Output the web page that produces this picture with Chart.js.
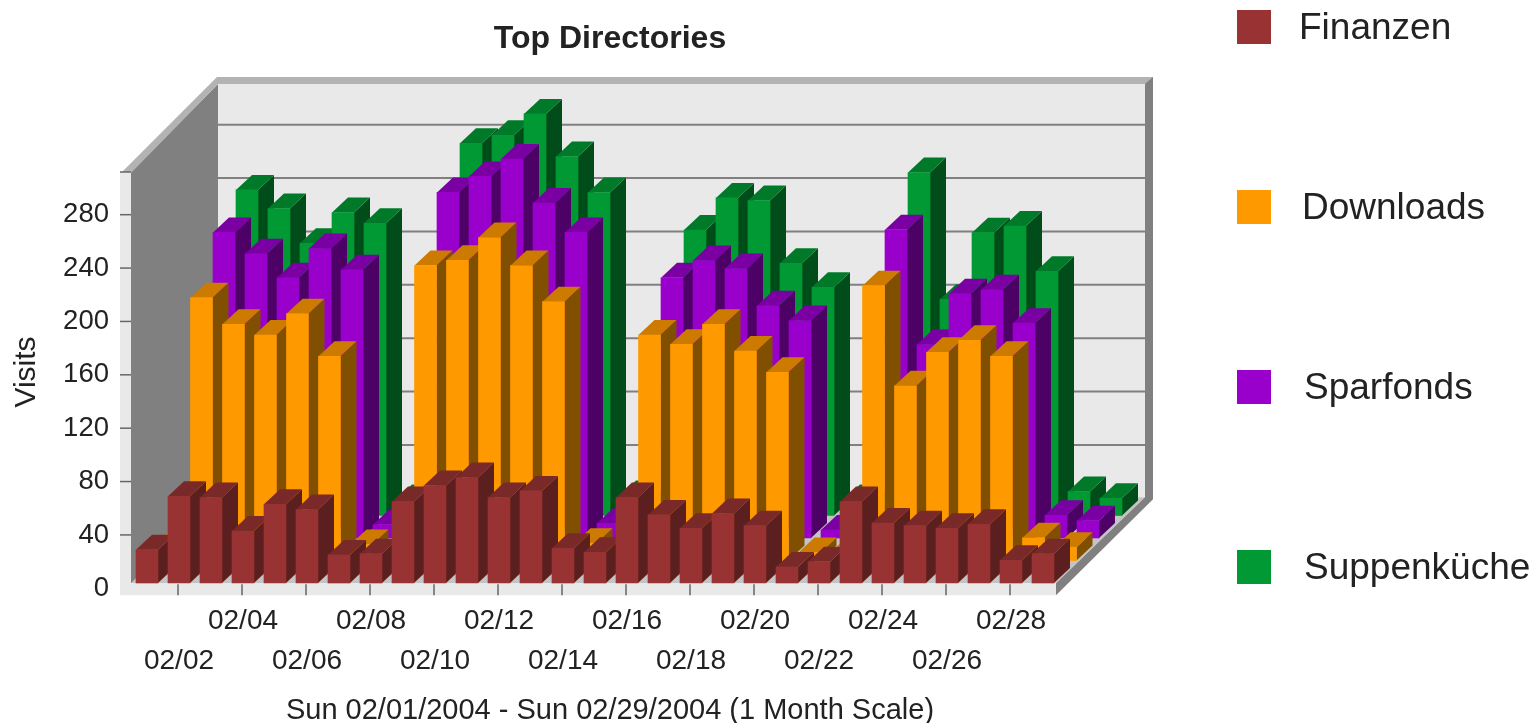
<!DOCTYPE html>
<html>
<head>
<meta charset="utf-8">
<title>Top Directories</title>
<script src="https://cdn.jsdelivr.net/npm/chart.js@4/dist/chart.umd.js"></script>
<style>
    html, body { margin: 0; padding: 0; background: #fff; }
    #wrap { width: 1539px; height: 723px; }
</style>
</head>
<body>
<div id="wrap"><canvas id="topDirectoriesChart" width="1539" height="723"></canvas></div>
<script>
const days = [
    "02/01", "02/02", "02/03", "02/04", "02/05", "02/06", "02/07", "02/08", "02/09", "02/10",
    "02/11", "02/12", "02/13", "02/14", "02/15", "02/16", "02/17", "02/18", "02/19", "02/20",
    "02/21", "02/22", "02/23", "02/24", "02/25", "02/26", "02/27", "02/28", "02/29"
];

const finanzen = [25, 65, 64, 39, 59, 55, 21, 22, 61, 73, 79, 64, 69, 26, 23, 64, 51, 41, 52, 43, 12, 16, 61, 45, 43, 41, 44, 17, 22];
const downloads = [15, 197, 177, 169, 185, 153, 12, 10, 221, 225, 242, 221, 194, 13, 10, 169, 162, 177, 157, 141, 6, 6, 206, 131, 156, 165, 153, 17, 10];
const sparfonds = [15, 229, 213, 195, 217, 201, 10, 12, 259, 271, 284, 251, 229, 11, 10, 195, 208, 202, 174, 163, 6, 8, 231, 145, 183, 186, 161, 17, 13];
const suppenkueche = [15, 244, 230, 204, 227, 219, 12, 15, 279, 285, 301, 269, 242, 15, 12, 214, 238, 236, 189, 171, 12, 12, 257, 162, 212, 217, 183, 18, 13];

const seriesNames = ["Finanzen", "Downloads", "Sparfonds", "Suppenküche"];
const seriesValues = [finanzen, downloads, sparfonds, suppenkueche];

const yTickStep = 40;
const yMax = 312;

// face colours per series: front, top, side
const frontColors = ["#993333", "#ff9900", "#9900cc", "#009933"];
const topColors = ["#7a2929", "#cc7a00", "#7a00a3", "#007a29"];
const sideColors = ["#5c1f1f", "#805000", "#4d0066", "#004d1a"];

// how far each series row sits behind the front of the floor
const rowShiftX = [0, 22.5, 45, 68];
const rowShiftY = [-5.3, -27.8, -50.3, -72.8];

// legend text starts
const legendTextX = [1299, 1302, 1304, 1304];

const BAR_DEPTH_X = 16;
const BAR_DEPTH_Y = 15;
const WALL_DEPTH_X = 87;
const WALL_DEPTH_Y = 90;
const FONT = "'Liberation Sans', Arial, sans-serif";

function fillPoly(ctx, color, points) {
    ctx.fillStyle = color;
    ctx.beginPath();
    ctx.moveTo(points[0][0], points[0][1]);
    points.slice(1).forEach(p => ctx.lineTo(p[0], p[1]));
    ctx.closePath();
    ctx.fill();
}

// Room behind the bars: walls, floor, rims and grid lines
const roomPlugin = {
    id: "room",
    beforeDatasetsDraw(chart) {
        const ctx = chart.ctx;
        const area = chart.chartArea;
        const x = chart.scales.x;
        const y = chart.scales.y;
        const left = area.left;
        const right = area.right - 3;
        const top = area.top;
        const floor = area.bottom - 5;
        const backLeft = left + WALL_DEPTH_X;
        const backRight = right + WALL_DEPTH_X + 2;
        const backTop = top - WALL_DEPTH_Y + 2;
        const backFloor = floor - 86;

        ctx.save();
        fillPoly(ctx, "#e9e9e9", [[backLeft, backTop], [backRight, backTop], [backRight, backFloor], [backLeft, backFloor]]);
        fillPoly(ctx, "#c4c4c4", [[left, floor], [right, floor], [backRight, backFloor], [backLeft, backFloor]]);
        fillPoly(ctx, "#808080", [[left, top], [backLeft, backTop], [backLeft, backFloor], [left, floor]]);

        // grid lines on the back wall
        ctx.strokeStyle = "#808080";
        ctx.lineWidth = 2;
        y.ticks.forEach(tick => {
            const py = y.getPixelForValue(tick.value) - WALL_DEPTH_Y;
            if (tick.value === 0) return;
            ctx.beginPath();
            ctx.moveTo(backLeft, py);
            ctx.lineTo(backRight, py);
            ctx.stroke();
        });

        // rims
        fillPoly(ctx, "#b3b3b3", [[left - 9, top], [backLeft - 1, backTop - 7], [backRight + 8, backTop - 7], [backRight + 8, backTop], [backLeft, backTop], [left, top + 1]]);
        fillPoly(ctx, "#808080", [[backRight, backTop], [backRight + 8, backTop - 7], [backRight + 8, backFloor + 2], [right, area.bottom + 7], [right, floor], [backRight, backFloor]]);
        fillPoly(ctx, "#e9e9e9", [[left - 11, top], [left, top], [left, floor], [right, floor], [right, area.bottom + 7], [left - 11, area.bottom + 7]]);

        // tick marks on the front rim
        ctx.strokeStyle = "#666666";
        ctx.lineWidth = 1.5;
        y.ticks.forEach(tick => {
            const py = y.getPixelForValue(tick.value);
            if (tick.value === 0) return;
            ctx.beginPath();
            ctx.moveTo(left - 11, py);
            ctx.lineTo(left, py);
            ctx.stroke();
        });
        days.forEach((day, i) => {
            if (i % 2 === 0) return;
            const px = x.getPixelForValue(i) - 1;
            ctx.beginPath();
            ctx.moveTo(px, floor + 1);
            ctx.lineTo(px, area.bottom + 7);
            ctx.stroke();
        });
        ctx.restore();
    }
};

// Moves each series to its row and paints the top and side of every bar
const depthBarsPlugin = {
    id: "depthBars",
    beforeDatasetDraw(chart, args) {
        const ctx = chart.ctx;
        const row = args.index;
        ctx.save();
        ctx.translate(rowShiftX[row], rowShiftY[row]);
        args.meta.data.forEach(bar => {
            const l = bar.x - bar.width / 2;
            const r = bar.x + bar.width / 2;
            fillPoly(ctx, sideColors[row], [
                [r, bar.base], [r + BAR_DEPTH_X, bar.base - BAR_DEPTH_Y],
                [r + BAR_DEPTH_X, bar.y - BAR_DEPTH_Y], [r, bar.y]
            ]);
            fillPoly(ctx, topColors[row], [
                [l, bar.y], [l + BAR_DEPTH_X, bar.y - BAR_DEPTH_Y],
                [r + BAR_DEPTH_X, bar.y - BAR_DEPTH_Y], [r, bar.y]
            ]);
        });
    },
    afterDatasetDraw(chart) {
        chart.ctx.restore();
    }
};

// Title, axis captions and the wide-spaced legend on the right
const captionsPlugin = {
    id: "captions",
    afterDraw(chart) {
        const ctx = chart.ctx;
        ctx.save();
        ctx.fillStyle = "#222222";
        ctx.textBaseline = "middle";

        ctx.font = "bold 32px " + FONT;
        ctx.textAlign = "center";
        ctx.fillText("Top Directories", 610, 39);

        ctx.font = "29px " + FONT;
        ctx.fillText("Sun 02/01/2004 - Sun 02/29/2004 (1 Month Scale)", 610, 711);

        ctx.save();
        ctx.translate(27, 372);
        ctx.rotate(-Math.PI / 2);
        ctx.font = "30px " + FONT;
        ctx.fillText("Visits", 0, 0);
        ctx.restore();

        ctx.font = "37px " + FONT;
        ctx.textAlign = "left";
        seriesNames.forEach((name, i) => {
            const cy = 27 + i * 180;
            ctx.fillStyle = frontColors[i];
            ctx.fillRect(1237, cy - 17, 34, 34);
            ctx.fillStyle = "#222222";
            ctx.fillText(name, legendTextX[i], cy + 2);
        });
        ctx.restore();
    }
};

function createTopDirectoriesChart() {
    const ctx = document.getElementById("topDirectoriesChart").getContext("2d");
    new Chart(ctx, {
        type: "bar",
        data: {
            labels: days,
            datasets: seriesNames.map((name, i) => ({
                label: name,
                data: seriesValues[i],
                backgroundColor: frontColors[i],
                barThickness: 22,
                grouped: false,
                clip: false
            }))
        },
        options: {
            responsive: false,
            animation: false,
            events: [],
            layout: { padding: { left: 0, top: 172, right: 480, bottom: 0 } },
            plugins: {
                legend: { display: false },
                title: { display: false },
                tooltip: { enabled: false }
            },
            scales: {
                x: {
                    afterFit(scale) { scale.height = 134.7; },
                    grid: { display: false, drawTicks: false },
                    border: { display: false },
                    ticks: {
                        autoSkip: false,
                        maxRotation: 0,
                        padding: 13,
                        color: "#222222",
                        font: { family: FONT, size: 28, lineHeight: 1.43 },
                        // even days only, alternating between two rows
                        callback(value, index) {
                            if (index % 2 === 0) return "";
                            return index % 4 === 1 ? ["", days[index]] : [days[index], ""];
                        }
                    }
                },
                y: {
                    min: 0,
                    max: yMax,
                    afterFit(scale) { scale.width = 131; },
                    grid: { display: false, drawTicks: false },
                    border: { display: false },
                    ticks: {
                        stepSize: yTickStep,
                        padding: 22,
                        color: "#222222",
                        font: { family: FONT, size: 27.5 },
                        callback(value) { return value % yTickStep === 0 ? value : ""; }
                    }
                }
            }
        },
        plugins: [roomPlugin, depthBarsPlugin, captionsPlugin]
    });
}

createTopDirectoriesChart();
</script>
</body>
</html>
